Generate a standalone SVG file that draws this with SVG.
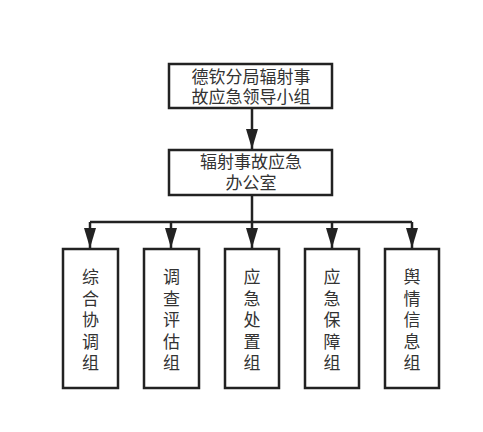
<svg xmlns="http://www.w3.org/2000/svg" width="483" height="432" viewBox="0 0 483 432">
<style>
.box{fill:#fff;stroke:#222;stroke-width:2.5}
.t{font-family:"Noto Sans CJK SC","Noto Sans",sans-serif;font-size:17px;fill:#333;text-anchor:middle}
.ln{fill:none;stroke:#222;stroke-width:2.5}
</style>
<defs>
<marker id="ah" viewBox="0 0 20 12" refX="20" refY="6" markerWidth="20" markerHeight="12" markerUnits="userSpaceOnUse" orient="auto">
<path d="M0,0 L20,6 L0,12 Z" fill="#222"/>
</marker>
</defs>
<rect width="483" height="432" fill="#fff"/>
<g id="connectors">
<path class="ln" d="M252,108 V149" marker-end="url(#ah)"/>
<path class="ln" d="M252,195 V222"/>
<path class="ln" d="M90,222 H412"/>
<path class="ln" d="M90,222 V248" marker-end="url(#ah)"/>
<path class="ln" d="M171,222 V248" marker-end="url(#ah)"/>
<path class="ln" d="M252,222 V248" marker-end="url(#ah)"/>
<path class="ln" d="M332,222 V248" marker-end="url(#ah)"/>
<path class="ln" d="M412,222 V248" marker-end="url(#ah)"/>
</g>
<g id="n1">
<rect class="box" x="169" y="64" width="163" height="44"/>
<text class="t" x="251" y="83">德钦分局辐射事<tspan x="251" dy="20">故应急领导小组</tspan></text>
</g>
<g id="n2">
<rect class="box" x="169" y="150" width="163" height="45"/>
<text class="t" x="251" y="168">辐射事故应急<tspan x="251" dy="21">办公室</tspan></text>
</g>
<g id="g1">
<rect class="box" x="63" y="249" width="55" height="139"/>
<text class="t" x="90.5" y="283">综<tspan x="90.5" dy="21.5">合</tspan><tspan x="90.5" dy="21.5">协</tspan><tspan x="90.5" dy="21.5">调</tspan><tspan x="90.5" dy="21.5">组</tspan></text>
</g>
<g id="g2">
<rect class="box" x="144" y="249" width="55" height="139"/>
<text class="t" x="171.5" y="283">调<tspan x="171.5" dy="21.5">查</tspan><tspan x="171.5" dy="21.5">评</tspan><tspan x="171.5" dy="21.5">估</tspan><tspan x="171.5" dy="21.5">组</tspan></text>
</g>
<g id="g3">
<rect class="box" x="225" y="249" width="54" height="139"/>
<text class="t" x="252" y="283">应<tspan x="252" dy="21.5">急</tspan><tspan x="252" dy="21.5">处</tspan><tspan x="252" dy="21.5">置</tspan><tspan x="252" dy="21.5">组</tspan></text>
</g>
<g id="g4">
<rect class="box" x="305" y="249" width="54" height="139"/>
<text class="t" x="332" y="283">应<tspan x="332" dy="21.5">急</tspan><tspan x="332" dy="21.5">保</tspan><tspan x="332" dy="21.5">障</tspan><tspan x="332" dy="21.5">组</tspan></text>
</g>
<g id="g5">
<rect class="box" x="385" y="249" width="54" height="139"/>
<text class="t" x="412" y="283">舆<tspan x="412" dy="21.5">情</tspan><tspan x="412" dy="21.5">信</tspan><tspan x="412" dy="21.5">息</tspan><tspan x="412" dy="21.5">组</tspan></text>
</g>
</svg>
